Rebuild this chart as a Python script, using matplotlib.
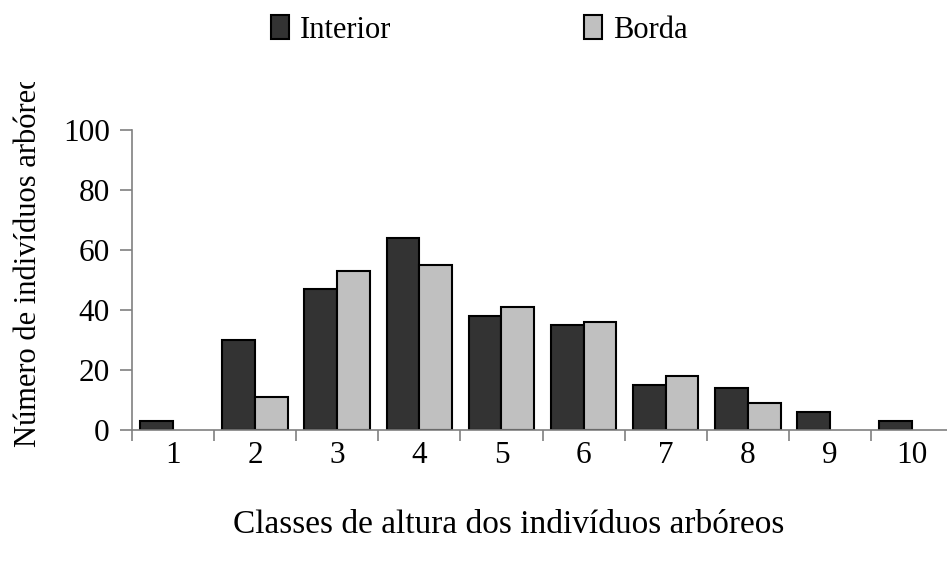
import numpy as np
import matplotlib
matplotlib.use('Agg')
import matplotlib.pyplot as plt
from matplotlib.transforms import Bbox, TransformedBbox

plt.rcParams['font.family'] = ['Liberation Serif', 'DejaVu Serif']

classes = ['1', '2', '3', '4', '5', '6', '7', '8', '9', '10']
interior = [3, 30, 47, 64, 38, 35, 15, 14, 6, 3]
borda = [0, 11, 53, 55, 41, 36, 18, 9, 0, 0]

W, H = 947, 568
fig = plt.figure(figsize=(W / 100, H / 100), dpi=100)
# axes placed in pixel terms; right end runs slightly past the image edge
ax = fig.add_axes([132 / W, (H - 430) / H, 821 / W, 300 / H])

x = np.arange(len(classes))
w = 0.4
ax.bar(x - w / 2, interior, w, color='#333333', edgecolor='black', linewidth=1.5, label='Interior')
ax.bar(x + w / 2, [b if b > 0 else np.nan for b in borda], w, color='#c0c0c0', edgecolor='black',
       linewidth=1.5, label='Borda')

ax.set_xlim(-0.5, len(classes) - 0.5)
ax.set_ylim(0, 100)
ax.set_yticks(range(0, 101, 20))
ax.tick_params(axis='y', labelsize=22.5, length=9, width=1.2, color='#808080', pad=7)

ax.set_xticks(np.arange(len(classes) + 1) - 0.5)
ax.set_xticklabels([])
ax.set_xticks(x, minor=True)
ax.set_xticklabels(classes, minor=True)
ax.tick_params(axis='x', which='major', length=8, width=1.2, color='#808080', direction='out')
ax.tick_params(axis='x', which='minor', length=0, labelsize=22.5, pad=8)

for s in ['top', 'right']:
    ax.spines[s].set_visible(False)
for s in ['left', 'bottom']:
    ax.spines[s].set_color('#808080')
    ax.spines[s].set_linewidth(1.2)

fig.text(509 / W, (H - 525) / H, 'Classes de altura dos indivíduos arbóreos',
         ha='center', va='center', fontsize=24)

yl = fig.text(29 / W, (H - 447) / H, 'Número de indivíduos arbóreos', rotation=90,
              ha='center', va='bottom', fontsize=22)
yl.set_clip_box(TransformedBbox(Bbox.from_extents(0, 0, 1, (H - 82) / H), fig.transFigure))
yl.set_clip_on(True)

fig.legend(loc='center', bbox_to_anchor=(479 / W, (H - 30) / H), ncol=2, frameon=False,
           fontsize=22, handlelength=0.6, handleheight=0.8, handletextpad=0.35,
           columnspacing=6.3, borderpad=0)

fig.savefig('out.png', dpi=100)
